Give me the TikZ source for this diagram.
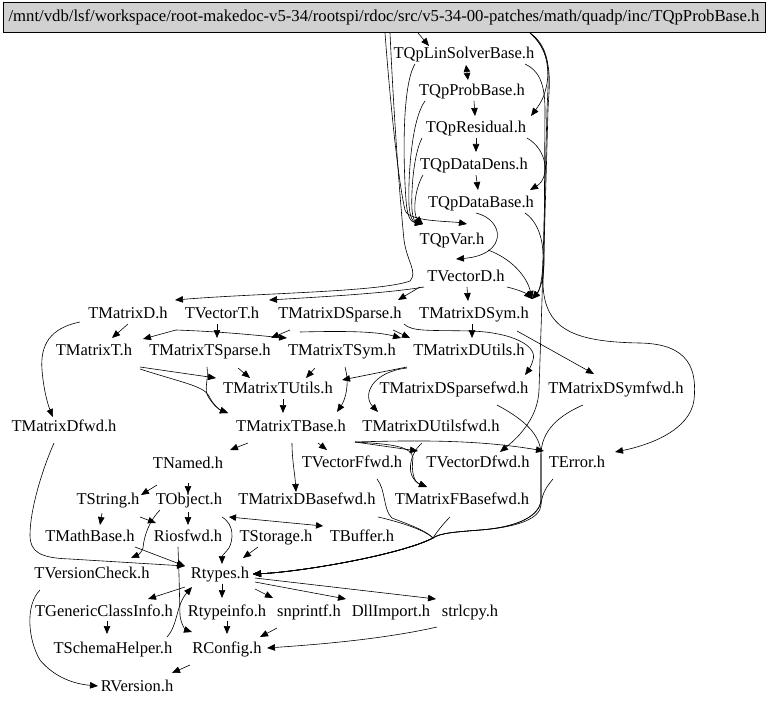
\documentclass[tikz,border=0pt]{standalone}
\usepackage{fontspec}
\setmainfont{Liberation Serif}
\usetikzlibrary{arrows.meta}
\definecolor{rootfill}{gray}{0.82}
\begin{document}
\begin{tikzpicture}[x=1pt,y=-1pt,
  fnode/.style={font=\fontsize{16.5}{18}\selectfont, text height=11pt, text depth=3.5pt, inner xsep=1pt, inner ysep=1.5pt},
  edg/.style={draw=black, line width=0.6pt, -{Triangle[length=8pt,width=6.5pt]}},
  edgtwo/.style={draw=black, line width=0.6pt, {Triangle[length=7pt,width=6.5pt]}-{Triangle[length=7pt,width=6.5pt]}}]
\fill[white] (0,0) rectangle (768,706);
\useasboundingbox (0,0) rectangle (768,706);
% root
\node[draw=black, line width=0.6pt, fill=rootfill, minimum width=762pt, minimum height=30pt, inner sep=0pt,
      font=\fontsize{16.7}{18}\selectfont] (root) at (384,17.5)
  {/mnt/vdb/lsf/workspace/root-makedoc-v5-34/rootspi/rdoc/src/v5-34-00-patches/math/quadp/inc/TQpProbBase.h};
% nodes
\node[fnode] (LinSolver) at (464,55) {TQpLinSolverBase.h};
\node[fnode] (ProbBase) at (472,92) {TQpProbBase.h};
\node[fnode] (Residual) at (476,129) {TQpResidual.h};
\node[fnode] (DataDens) at (474,166) {TQpDataDens.h};
\node[fnode] (DataBase) at (481,204) {TQpDataBase.h};
\node[fnode] (QpVar) at (452,241) {TQpVar.h};
\node[fnode] (VectorD) at (466,278) {TVectorD.h};
\node[fnode] (MatrixD) at (128,315) {TMatrixD.h};
\node[fnode] (VectorT) at (222,315) {TVectorT.h};
\node[fnode] (MDSparse) at (340,315) {TMatrixDSparse.h};
\node[fnode] (MDSym) at (474,315) {TMatrixDSym.h};
\node[fnode] (MatrixT) at (94,352) {TMatrixT.h};
\node[fnode] (MTSparse) at (210,352) {TMatrixTSparse.h};
\node[fnode] (MTSym) at (342,352) {TMatrixTSym.h};
\node[fnode] (MDUtils) at (469,352) {TMatrixDUtils.h};
\node[fnode] (MTUtils) at (278,390) {TMatrixTUtils.h};
\node[fnode] (MDSparsefwd) at (454,390) {TMatrixDSparsefwd.h};
\node[fnode] (MDSymfwd) at (616,390) {TMatrixDSymfwd.h};
\node[fnode] (MDfwd) at (64,428) {TMatrixDfwd.h};
\node[fnode] (MTBase) at (291,428) {TMatrixTBase.h};
\node[fnode] (MDUtilsfwd) at (431,428) {TMatrixDUtilsfwd.h};
\node[fnode] (TNamed) at (188,465) {TNamed.h};
\node[fnode] (VFfwd) at (352,464) {TVectorFfwd.h};
\node[fnode] (VDfwd) at (478,464) {TVectorDfwd.h};
\node[fnode] (TError) at (577,464) {TError.h};
\node[fnode] (TString) at (108,501) {TString.h};
\node[fnode] (TObject) at (189,501) {TObject.h};
\node[fnode] (MDBasefwd) at (307,501) {TMatrixDBasefwd.h};
\node[fnode] (MFBasefwd) at (462,501) {TMatrixFBasefwd.h};
\node[fnode] (TMathBase) at (90,538) {TMathBase.h};
\node[fnode] (Riosfwd) at (188,538) {Riosfwd.h};
\node[fnode] (TStorage) at (276,538) {TStorage.h};
\node[fnode] (TBuffer) at (362,538) {TBuffer.h};
\node[fnode] (TVersionCheck) at (92,575) {TVersionCheck.h};
\node[fnode] (Rtypes) at (220,575) {Rtypes.h};
\node[fnode] (TGCI) at (104,613) {TGenericClassInfo.h};
\node[fnode] (Rtypeinfo) at (227,613) {Rtypeinfo.h};
\node[fnode] (snprintf) at (309,613) {snprintf.h};
\node[fnode] (DllImport) at (391,613) {DllImport.h};
\node[fnode] (strlcpy) at (470,613) {strlcpy.h};
\node[fnode] (TSchemaHelper) at (113,650) {TSchemaHelper.h};
\node[fnode] (RConfig) at (227,650) {RConfig.h};
\node[fnode] (RVersion) at (137,688) {RVersion.h};

% ---- top chain
\draw[edg] ([shift={(34,15.5)}]root.center) -- ([shift={(-35,-9)}]LinSolver.center);
\draw[edgtwo] ([shift={(2,10)}]LinSolver.center) -- ([shift={(-4,-12)}]ProbBase.center);
\draw[edg] ([shift={(2,9)}]ProbBase.center) -- ([shift={(-1,-13)}]Residual.center);
\draw[edg] ([shift={(0,9)}]Residual.center) -- ([shift={(2,-14)}]DataDens.center);
\draw[edg] ([shift={(2,9)}]DataDens.center) -- ([shift={(-3,-14)}]DataBase.center);

% ---- right bundle
\draw[edg] ([shift={(146,15.5)}]root.center) .. controls (552,48) and (550,78) .. (544,95)
  .. controls (541,103) and (537,108) .. ([shift={(55,-13)}]Residual.center);
\draw[edg] ([shift={(61,9)}]LinSolver.center) .. controls (538,70) and (545,82) .. (545,110) -- (544,265)
  .. controls (543,285) and (538,292) .. ([shift={(58,-16)}]MDSym.center);
\draw[edg] ([shift={(146,15.5)}]root.center) .. controls (553,52) and (548,80) .. (547,110) -- (542,300) -- (539,390)
  .. controls (538,420) and (515,440) .. ([shift={(22,-12)}]VDfwd.center);
\draw[edg] ([shift={(146,15.5)}]root.center) .. controls (555,55) and (549,85) .. (548,110) -- (543,285)
  .. controls (545,330) and (575,342) .. (640,343) .. controls (690,344) and (697,370) .. (694,400)
  .. controls (690,430) and (650,445) .. ([shift={(38,-12)}]TError.center);
\draw[edg] ([shift={(51,9)}]Residual.center) .. controls (548,150) and (550,178) .. ([shift={(49,-14)}]DataBase.center);
\draw[edg] ([shift={(44,9)}]DataBase.center) .. controls (538,222) and (544,240) .. (543,262)
  .. controls (542,285) and (538,293) .. ([shift={(58,-16)}]MDSym.center);
\draw[edg] ([shift={(36,9)}]QpVar.center) .. controls (515,260) and (528,280) .. ([shift={(58,-16)}]MDSym.center);
\draw[edg] ([shift={(41,9)}]VectorD.center) .. controls (520,290) and (527,294) .. ([shift={(58,-16)}]MDSym.center);
\draw[edg] ([shift={(-5,9)}]DataBase.center) .. controls (505,220) and (508,255) .. ([shift={(-10,-19)}]VectorD.center);

% ---- left bundle
\draw[edg] ([shift={(1,15.5)}]root.center) .. controls (390,100) and (398,180) .. (405,210)
  .. controls (408,222) and (450,221) .. ([shift={(15,-17)}]QpVar.center);
\draw[edg] ([shift={(-49,9)}]LinSolver.center) .. controls (402,85) and (403,160) .. (406,200)
  .. controls (407,215) and (410,222) .. ([shift={(-29,-17)}]QpVar.center);
\draw[edg] ([shift={(-47,9)}]ProbBase.center) .. controls (411,120) and (408,180) .. (409,205)
  .. controls (410,218) and (413,222) .. ([shift={(-29,-17)}]QpVar.center);
\draw[edg] ([shift={(-54,9)}]Residual.center) .. controls (413,155) and (411,195) .. (412,210)
  .. controls (413,219) and (415,222) .. ([shift={(-29,-17)}]QpVar.center);
\draw[edg] ([shift={(-51,9)}]DataDens.center) .. controls (414,190) and (413,215) .. ([shift={(-29,-17)}]QpVar.center);
\draw[edg] ([shift={(6,15.5)}]root.center) .. controls (394,120) and (400,200) .. (404,240)
  .. controls (407,262) and (418,272) .. (410,281) .. controls (380,292) and (260,293) .. ([shift={(47,-15)}]MatrixD.center);
\draw[edg] ([shift={(-42,9)}]VectorD.center) .. controls (390,293) and (320,297) .. ([shift={(47,-15)}]VectorT.center);
\draw[edg] ([shift={(-46,9)}]VectorD.center) -- ([shift={(58,-15)}]MDSparse.center);
\draw[edg] ([shift={(1,9)}]VectorD.center) -- ([shift={(-6,-14)}]MDSym.center);

% ---- middle
\draw[edg] ([shift={(0,9)}]MatrixD.center) -- ([shift={(18,-14)}]MatrixT.center);
\draw[edg] ([shift={(-48,7)}]MatrixD.center) .. controls (50,328) and (40,345) .. (42,370)
  .. controls (44,395) and (50,410) .. ([shift={(-11,-11)}]MDfwd.center);
\draw[edg] ([shift={(-46,15)}]VectorT.center) -- ([shift={(49,-13)}]MatrixT.center);
\draw[edg] ([shift={(-5,9)}]VectorT.center) -- ([shift={(7,-14)}]MTSparse.center);
\draw[edg] ([shift={(-46,15)}]VectorT.center) .. controls (230,332) and (262,336) .. ([shift={(-55,-14)}]MTSym.center);
\draw[edg] ([shift={(-50,15)}]MDSparse.center) -- ([shift={(61,-14)}]MTSparse.center);
\draw[edg] ([shift={(-40,17)}]MDSparse.center) .. controls (340,331) and (375,331) .. ([shift={(-68,-14)}]MDUtils.center);
\draw[edg] ([shift={(53,15)}]MDSparse.center) -- ([shift={(-59,-14)}]MDUtils.center);
\draw[edg] ([shift={(64,9)}]MDSparse.center) .. controls (412,332) and (430,330) .. (470,331)
  .. controls (510,332) and (538,345) .. (533,360) .. controls (531,367) and (528,371) .. ([shift={(71,-15)}]MDSparsefwd.center);
\draw[edg] ([shift={(-2,9)}]MDSym.center) -- ([shift={(3,-14)}]MDUtils.center);
\draw[edg] ([shift={(43,16)}]MDSym.center) -- ([shift={(-22,-16)}]MDSymfwd.center);
\draw[edg] ([shift={(46,15)}]MatrixT.center) -- ([shift={(-62,-12)}]MTUtils.center);
\draw[edg] ([shift={(46,17)}]MatrixT.center) .. controls (180,382) and (204,386) .. (209,396)
  .. controls (213,405) and (220,410) .. ([shift={(-63,-15)}]MTBase.center);
\draw[edg] ([shift={(-3,15)}]MTSparse.center) .. controls (209,380) and (203,390) .. (209,398)
  .. controls (214,406) and (220,410) .. ([shift={(-63,-15)}]MTBase.center);
\draw[edg] ([shift={(28,16)}]MTSparse.center) -- ([shift={(-28,-12)}]MTUtils.center);
\draw[edg] ([shift={(-27,16)}]MTSym.center) -- ([shift={(28,-12)}]MTUtils.center);
\draw[edg] ([shift={(-62,15)}]MDUtils.center) -- ([shift={(64,-10)}]MTUtils.center);
\draw[edg] ([shift={(3,15)}]MTSym.center) .. controls (350,385) and (345,400) .. ([shift={(46,-16)}]MTBase.center);
\draw[edg] ([shift={(-62,16)}]MDUtils.center) .. controls (372,372) and (362,395) .. ([shift={(-53,-16)}]MDUtilsfwd.center);
\draw[edg] ([shift={(5,9)}]MTUtils.center) -- ([shift={(-8,-15)}]MTBase.center);
\draw[edg] ([shift={(-10,15)}]MDfwd.center) .. controls (42,470) and (30,510) .. (30,535)
  .. controls (30,552) and (40,558) .. (70,559) -- ([shift={(-35,-9)}]Rtypes.center);

% ---- lower middle
\draw[edg] ([shift={(-43,15)}]MTBase.center) -- ([shift={(42,-15)}]TNamed.center);
\draw[edg] ([shift={(1,15)}]MTBase.center) .. controls (292,460) and (295,475) .. ([shift={(-11,-9)}]MDBasefwd.center);
\draw[edg] ([shift={(27,15)}]MTBase.center) -- ([shift={(-25,-14)}]VFfwd.center);
\draw[edg] ([shift={(64,14)}]MTBase.center) -- ([shift={(-60,-13)}]VDfwd.center);
\draw[edg] ([shift={(64,14)}]MTBase.center) .. controls (420,440) and (480,440) .. ([shift={(-33,-13)}]TError.center);
\draw[edg] ([shift={(64,14)}]MTBase.center) .. controls (390,444) and (412,446) .. (413,458)
  .. controls (411,472) and (414,482) .. ([shift={(-35,-14)}]MFBasefwd.center);
\draw[edg] ([shift={(-9,15)}]MDUtilsfwd.center) .. controls (408,455) and (406,478) .. ([shift={(-35,-14)}]MFBasefwd.center);
% merged edges into Rtypes
\draw[edg] ([shift={(43,15)}]MDSparsefwd.center) .. controls (525,420) and (541,435) .. (541,455) -- (541,500)
  .. controls (540,515) and (520,527) .. (480,530) .. controls (455,532) and (440,533) .. (433,538)
  .. controls (400,555) and (300,572) .. ([shift={(33,-1)}]Rtypes.center);
\draw[edg] ([shift={(-33,15)}]MDSymfwd.center) .. controls (560,415) and (541,430) .. (541,455) -- (541,500)
  .. controls (540,515) and (520,527) .. (480,530) .. controls (455,532) and (440,533) .. (433,538)
  .. controls (400,555) and (300,572) .. ([shift={(33,-1)}]Rtypes.center);
\draw[edg] ([shift={(-24,15)}]TError.center) .. controls (548,485) and (542,492) .. (541,505)
  .. controls (540,518) and (520,527) .. (480,530) .. controls (455,532) and (440,533) .. (433,538)
  .. controls (400,555) and (300,572) .. ([shift={(33,-1)}]Rtypes.center);
\draw[edg] ([shift={(25,15)}]VFfwd.center) .. controls (386,490) and (383,510) .. (392,518)
  .. controls (410,525) and (425,530) .. (433,538) .. controls (400,555) and (300,572) .. ([shift={(33,-1)}]Rtypes.center);
\draw[edg] ([shift={(71,16)}]MDBasefwd.center) .. controls (400,522) and (425,530) .. (433,538)
  .. controls (400,555) and (300,572) .. ([shift={(33,-1)}]Rtypes.center);
\draw[edg] ([shift={(-12,16)}]MFBasefwd.center) .. controls (445,522) and (438,530) .. (433,538)
  .. controls (400,555) and (300,572) .. ([shift={(33,-1)}]Rtypes.center);

% ---- bottom
\draw[edg] ([shift={(-31,20)}]TNamed.center) -- ([shift={(33,-6)}]TString.center);
\draw[edg] ([shift={(0,18)}]TNamed.center) -- ([shift={(-1,-7)}]TObject.center);
\draw[edg] ([shift={(-6,12)}]TString.center) -- ([shift={(10,-13)}]TMathBase.center);
\draw[edg] ([shift={(32,16)}]TString.center) -- ([shift={(-32,-15)}]Riosfwd.center);
\draw[edg] ([shift={(-1,11)}]TObject.center) -- ([shift={(0,-13)}]Riosfwd.center);
\draw[edgtwo] ([shift={(40,16)}]TObject.center) -- ([shift={(-39,-12)}]TBuffer.center);
\draw[edg] ([shift={(33,16)}]TObject.center) .. controls (235,525) and (233,540) .. (229,548)
  .. controls (225,553) and (222,556) .. ([shift={(2,-11)}]Rtypes.center);
\draw[edg] ([shift={(-18,9)}]TStorage.center) -- ([shift={(23,-17)}]Rtypes.center);
\draw[edg] ([shift={(45,9)}]TMathBase.center) -- ([shift={(-35,-9)}]Rtypes.center);
\draw[edg] ([shift={(-29,9)}]TObject.center) .. controls (150,520) and (144,535) .. (143,548)
  .. controls (142,552) and (138,555) .. ([shift={(39,-17)}]TVersionCheck.center);
\draw[edg] ([shift={(-10,9)}]Riosfwd.center) -- (179,575) -- (180,615)
  .. controls (181,625) and (186,630) .. ([shift={(-35,-18)}]RConfig.center);
\draw[edg] ([shift={(54,-13)}]TSchemaHelper.center) .. controls (178,625) and (176,605) .. ([shift={(-28,12)}]Rtypes.center);
\draw[edg] ([shift={(-35,12)}]Rtypes.center) -- ([shift={(44,-14)}]TGCI.center);
\draw[edg] ([shift={(2,9)}]Rtypes.center) -- ([shift={(-5,-15)}]Rtypeinfo.center);
\draw[edg] ([shift={(35,14)}]Rtypes.center) -- ([shift={(-36,-15)}]snprintf.center);
\draw[edg] ([shift={(35,7)}]Rtypes.center) -- ([shift={(-45,-14)}]DllImport.center);
\draw[edg] ([shift={(35,3)}]Rtypes.center) -- ([shift={(-34,-14)}]strlcpy.center);
\draw[edg] ([shift={(3,8)}]TGCI.center) -- ([shift={(-6,-16)}]TSchemaHelper.center);
\draw[edg] ([shift={(0,8)}]Rtypeinfo.center) -- ([shift={(0,-16)}]RConfig.center);
\draw[edg] ([shift={(-32,15)}]snprintf.center) -- ([shift={(33,-13)}]RConfig.center);
\draw[edg] ([shift={(-33,14)}]strlcpy.center) .. controls (380,640) and (310,645) .. ([shift={(40,-2)}]RConfig.center);
\draw[edg] ([shift={(-37,15)}]RConfig.center) -- ([shift={(35,-15)}]RVersion.center);
\draw[edg] ([shift={(-52,15)}]TVersionCheck.center) .. controls (25,605) and (28,640) .. (40,660)
  .. controls (55,678) and (75,684) .. ([shift={(-39,-2)}]RVersion.center);
\end{tikzpicture}
\end{document}
